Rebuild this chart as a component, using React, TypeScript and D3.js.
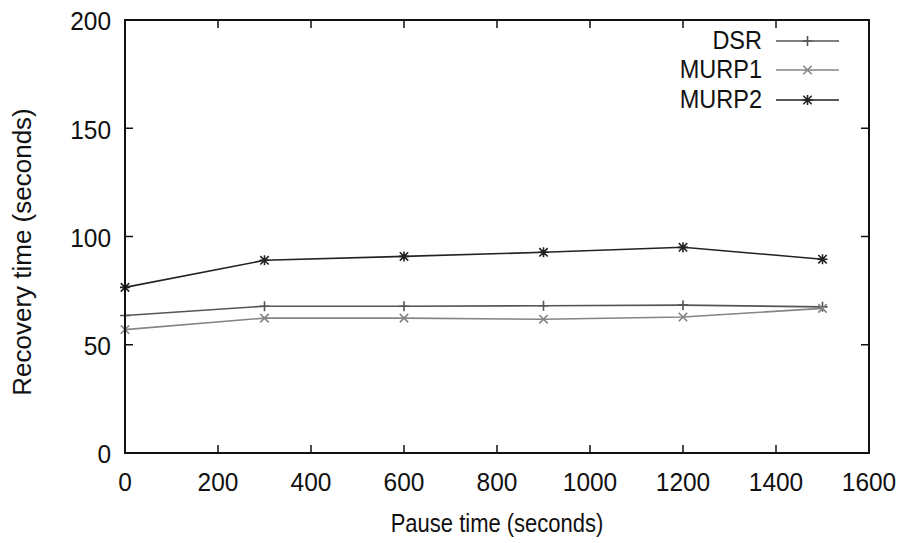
import React from "react";
import * as d3 from "d3";

// Recovery time versus pause time for three routing protocols
const pauseTimes = [0, 300, 600, 900, 1200, 1500];
const dsrValues = [63.5, 67.8, 67.8, 68.0, 68.3, 67.5];
const murp1Values = [57.0, 62.3, 62.3, 61.8, 62.8, 66.8];
const murp2Values = [76.5, 89.0, 90.8, 92.7, 95.0, 89.5];

const xTickValues = [0, 200, 400, 600, 800, 1000, 1200, 1400, 1600];
const yTickValues = [0, 50, 100, 150, 200];

const seriesNames = ["DSR", "MURP1", "MURP2"];
const seriesColors = ["#555555", "#858585", "#222222"];
const seriesMarkers = ["plus", "cross", "star"];

const W = 907;
const H = 543;
const M = { left: 125, right: 869, top: 20, bottom: 453 };
const FONT = "'Liberation Sans', Arial, sans-serif";

function Marker({ kind, x, y, color }: { kind: string; x: number; y: number; color: string }) {
  const s = 5;
  const d = 4.2;
  const plus = `M${x - s},${y}H${x + s}M${x},${y - s}V${y + s}`;
  const cross = `M${x - d},${y - d}L${x + d},${y + d}M${x - d},${y + d}L${x + d},${y - d}`;
  const path = kind === "plus" ? plus : kind === "cross" ? cross : plus + cross;
  return <path d={path} stroke={color} strokeWidth={1.6} fill="none" />;
}

function Label({
  x,
  y,
  text,
  anchor,
  size,
  sx = 1,
  sy = 1,
  rotate = 0,
}: {
  x: number;
  y: number;
  text: string;
  anchor: string;
  size: number;
  sx?: number;
  sy?: number;
  rotate?: number;
}) {
  const tf = `translate(${x},${y})${rotate ? ` rotate(${rotate})` : ""} scale(${sx},${sy})`;
  return (
    <text
      transform={tf}
      textAnchor={anchor}
      dominantBaseline="central"
      fontFamily={FONT}
      fontSize={size}
      fill="#111"
    >
      {text}
    </text>
  );
}

export default function App() {
  const x = d3.scaleLinear().domain([0, 1600]).range([M.left, M.right]);
  const y = d3.scaleLinear().domain([0, 200]).range([M.bottom, M.top]);

  const allSeries = [dsrValues, murp1Values, murp2Values];
  const line = d3
    .line<number>()
    .x((_, i) => x(pauseTimes[i]))
    .y((v) => y(v));

  const tickLen = 8;
  const legendRows = [41, 70, 100];
  const legendX0 = 776;
  const legendX1 = 839;

  return (
    <svg
      width={W}
      height={H}
      style={{ position: "absolute", left: 0, top: 0, background: "#fff" }}
    >
      <rect x={0} y={0} width={W} height={H} fill="#fff" />

      {/* ticks, mirrored on all four sides */}
      {xTickValues.map((t) => (
        <g key={"xt" + t}>
          <line x1={x(t)} x2={x(t)} y1={M.bottom} y2={M.bottom - tickLen} stroke="#111" strokeWidth={1.5} />
          <line x1={x(t)} x2={x(t)} y1={M.top} y2={M.top + tickLen} stroke="#111" strokeWidth={1.5} />
          <Label x={x(t)} y={M.bottom + 29} text={String(t)} anchor="middle" size={24.5} sy={1.07} />
        </g>
      ))}
      {yTickValues.map((t) => (
        <g key={"yt" + t}>
          <line x1={M.left} x2={M.left + tickLen} y1={y(t)} y2={y(t)} stroke="#111" strokeWidth={1.5} />
          <line x1={M.right} x2={M.right - tickLen} y1={y(t)} y2={y(t)} stroke="#111" strokeWidth={1.5} />
          <Label x={M.left - 14} y={y(t) + 1} text={String(t)} anchor="end" size={24.5} sy={1.07} />
        </g>
      ))}

      {/* series lines and point markers */}
      {allSeries.map((vals, si) => (
        <g key={"s" + si}>
          <path d={line(vals) || ""} fill="none" stroke={seriesColors[si]} strokeWidth={1.6} />
          {vals.map((v, i) => (
            <Marker key={i} kind={seriesMarkers[si]} x={x(pauseTimes[i])} y={y(v)} color={seriesColors[si]} />
          ))}
        </g>
      ))}

      {/* legend */}
      {seriesNames.map((name, si) => (
        <g key={"lg" + si}>
          <Label x={762} y={legendRows[si] - 1} text={name} anchor="end" size={23.5} sy={1.1} />
          <line
            x1={legendX0}
            x2={legendX1}
            y1={legendRows[si]}
            y2={legendRows[si]}
            stroke={seriesColors[si]}
            strokeWidth={1.6}
          />
          <Marker kind={seriesMarkers[si]} x={(legendX0 + legendX1) / 2} y={legendRows[si]} color={seriesColors[si]} />
        </g>
      ))}

      {/* frame */}
      <rect
        x={M.left}
        y={M.top}
        width={M.right - M.left}
        height={M.bottom - M.top}
        fill="none"
        stroke="#111"
        strokeWidth={2}
      />

      <Label x={(M.left + M.right) / 2} y={523} text="Pause time (seconds)" anchor="middle" size={22} sy={1.18} />
      <Label x={22} y={252} text="Recovery time (seconds)" anchor="middle" size={26} rotate={-90} />
    </svg>
  );
}
